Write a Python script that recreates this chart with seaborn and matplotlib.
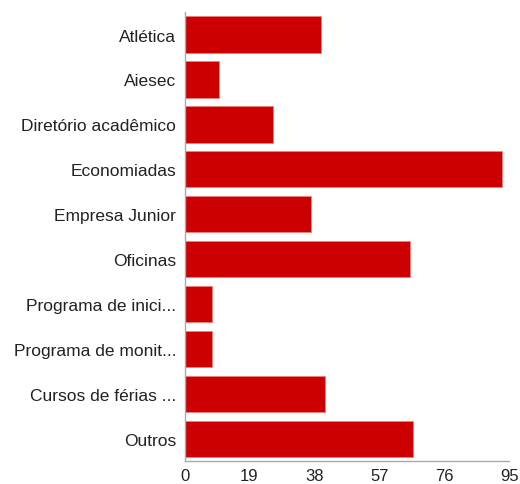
import matplotlib
matplotlib.use("Agg")
import matplotlib.pyplot as plt
import seaborn as sns
import pandas as pd

categories = ["Atlética", "Aiesec", "Diretório acadêmico", "Economiadas",
              "Empresa Junior", "Oficinas", "Programa de inici...",
              "Programa de monit...", "Cursos de férias ...", "Outros"]
counts = [40, 10, 26, 93, 37, 66, 8, 8, 41, 67]
x_ticks = [0, 19, 38, 57, 76, 95]

sns.set_style("white")
plt.rcParams['font.family'] = ['Liberation Sans', 'DejaVu Sans']

df = pd.DataFrame({"categoria": categories, "n": counts})

fig = plt.figure(figsize=(5.2, 4.85), dpi=100)
ax = fig.add_axes([0.355, 0.047, 0.624, 0.926])

sns.barplot(data=df, x="n", y="categoria", orient="h", color="#cc0000",
            saturation=1, width=0.81, edgecolor="#f08080", linewidth=0.6, ax=ax)

ax.set_xlim(0, 95)
ax.set_xticks(x_ticks)
ax.set_xlabel("")
ax.set_ylabel("")
for side in ["top", "right"]:
    ax.spines[side].set_visible(False)
for side in ["left", "bottom"]:
    ax.spines[side].set_color("#aaaaaa")
    ax.spines[side].set_linewidth(1)
ax.tick_params(axis="both", width=1, color="#aaaaaa",
               labelsize=12, labelcolor="#222222", direction="out")
ax.tick_params(axis="x", length=4, pad=1)
ax.tick_params(axis="y", length=4, pad=2, labelsize=12.5)

fig.savefig("out.png", dpi=100)
